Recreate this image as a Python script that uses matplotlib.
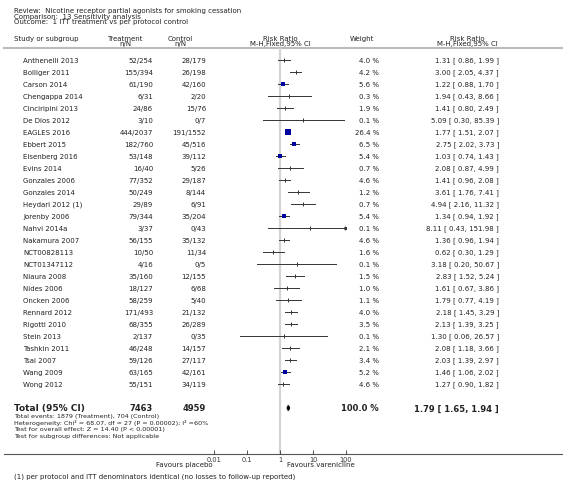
import matplotlib
matplotlib.use("Agg")
import numpy as np
import matplotlib.pyplot as plt

# Study level data
studies = ["Anthenelli 2013", "Bolliger 2011", "Carson 2014", "Chengappa 2014",
           "Cinciripini 2013", "De Dios 2012", "EAGLES 2016", "Ebbert 2015",
           "Eisenberg 2016", "Evins 2014", "Gonzales 2006", "Gonzales 2014",
           "Heydari 2012 (1)", "Jorenby 2006", "Nahvi 2014a", "Nakamura 2007",
           "NCT00828113", "NCT01347112", "Niaura 2008", "Nides 2006",
           "Oncken 2006", "Rennard 2012", "Rigotti 2010", "Stein 2013",
           "Tashkin 2011", "Tsai 2007", "Wang 2009", "Wong 2012"]
treatment = ["52/254", "155/394", "61/190", "6/31", "24/86", "3/10", "444/2037",
             "182/760", "53/148", "16/40", "77/352", "50/249", "29/89", "79/344",
             "3/37", "56/155", "10/50", "4/16", "35/160", "18/127", "58/259",
             "171/493", "68/355", "2/137", "46/248", "59/126", "63/165", "55/151"]
control = ["28/179", "26/198", "42/160", "2/20", "15/76", "0/7", "191/1552",
           "45/516", "39/112", "5/26", "29/187", "8/144", "6/91", "35/204",
           "0/43", "35/132", "11/34", "0/5", "12/155", "6/68", "5/40", "21/132",
           "26/289", "0/35", "14/157", "27/117", "42/161", "34/119"]
weight = [4.0, 4.2, 5.6, 0.3, 1.9, 0.1, 26.4, 6.5, 5.4, 0.7, 4.6, 1.2, 0.7, 5.4,
          0.1, 4.6, 1.6, 0.1, 1.5, 1.0, 1.1, 4.0, 3.5, 0.1, 2.1, 3.4, 5.2, 4.6]
rr = [1.31, 3.00, 1.22, 1.94, 1.41, 5.09, 1.77, 2.75, 1.03, 2.08, 1.41, 3.61,
      4.94, 1.34, 8.11, 1.36, 0.62, 3.18, 2.83, 1.61, 1.79, 2.18, 2.13, 1.30,
      2.08, 2.03, 1.46, 1.27]
lo = [0.86, 2.05, 0.88, 0.43, 0.80, 0.30, 1.51, 2.02, 0.74, 0.87, 0.96, 1.76,
      2.16, 0.94, 0.43, 0.96, 0.30, 0.20, 1.52, 0.67, 0.77, 1.45, 1.39, 0.06,
      1.18, 1.39, 1.06, 0.90]
hi = [1.99, 4.37, 1.70, 8.66, 2.49, 85.39, 2.07, 3.73, 1.43, 4.99, 2.08, 7.41,
      11.32, 1.92, 151.98, 1.94, 1.29, 50.67, 5.24, 3.86, 4.19, 3.29, 3.25,
      26.57, 3.66, 2.97, 2.02, 1.82]

# Pooled result
total_treat = 7463
total_ctrl = 4959
total_rr, total_lo, total_hi = 1.79, 1.65, 1.94

ticks = [0.01, 0.1, 1, 10, 100]
tick_labels = ["0.01", "0.1", "1", "10", "100"]

W, H = 566, 481
fig = plt.figure(figsize=(W / 100, H / 100), dpi=100)
fig.patch.set_facecolor("white")

# Background axes in pixel units for all the text columns
bg = fig.add_axes([0, 0, 1, 1])
bg.set_xlim(0, W)
bg.set_ylim(H, 0)
bg.axis("off")

txt = "#222222"
fs = 5.0

# Header
bg.text(14, 11, "Review:  Nicotine receptor partial agonists for smoking cessation", fontsize=fs, color=txt, va="center")
bg.text(14, 16.5, "Comparison:  13 Sensitivity analysis", fontsize=fs, color=txt, va="center")
bg.text(14, 22, "Outcome:  1 ITT treatment vs per protocol control", fontsize=fs, color=txt, va="center")

bg.text(14, 39, "Study or subgroup", fontsize=fs, color=txt, va="center")
bg.text(125, 39, "Treatment", fontsize=fs, color=txt, va="center", ha="center")
bg.text(125, 44, "n/N", fontsize=fs, color=txt, va="center", ha="center")
bg.text(180, 39, "Control", fontsize=fs, color=txt, va="center", ha="center")
bg.text(180, 44, "n/N", fontsize=fs, color=txt, va="center", ha="center")
bg.text(280, 39, "Risk Ratio", fontsize=fs, color=txt, va="center", ha="center")
bg.text(280, 44, "M-H,Fixed,95% CI", fontsize=fs, color=txt, va="center", ha="center")
bg.text(362, 39, "Weight", fontsize=fs, color=txt, va="center", ha="center")
bg.text(467, 39, "Risk Ratio", fontsize=fs, color=txt, va="center", ha="center")
bg.text(467, 44, "M-H,Fixed,95% CI", fontsize=fs, color=txt, va="center", ha="center")
bg.plot([4, 562], [49, 49], color="#bbbbbb", lw=1.5)

# Row positions in pixels
row_y = 61 + 12 * np.arange(len(studies))
total_y = 409

for i in range(len(studies)):
    y = row_y[i]
    bg.text(23, y, studies[i], fontsize=fs, color=txt, va="center")
    bg.text(153, y, treatment[i], fontsize=fs, color=txt, va="center", ha="right")
    bg.text(206, y, control[i], fontsize=fs, color=txt, va="center", ha="right")
    bg.text(379, y, f"{weight[i]:.1f} %", fontsize=fs, color=txt, va="center", ha="right")
    bg.text(499, y, f"{rr[i]:.2f} [ {lo[i]:.2f}, {hi[i]:.2f} ]", fontsize=fs, color=txt, va="center", ha="right")

# Total row
bg.text(14, total_y, "Total (95% CI)", fontsize=6.5, color=txt, va="center", fontweight="bold")
bg.text(153, total_y, str(total_treat), fontsize=6.0, color=txt, va="center", ha="right", fontweight="bold")
bg.text(206, total_y, str(total_ctrl), fontsize=6.0, color=txt, va="center", ha="right", fontweight="bold")
bg.text(379, total_y, "100.0 %", fontsize=6.0, color=txt, va="center", ha="right", fontweight="bold")
bg.text(499, total_y, f"{total_rr:.2f} [ {total_lo:.2f}, {total_hi:.2f} ]", fontsize=6.0,
        color=txt, va="center", ha="right", fontweight="bold")

# Summary statistics under the total row
bg.text(14, 417, "Total events: 1879 (Treatment), 704 (Control)", fontsize=4.6, color=txt, va="center")
bg.text(14, 423.5, "Heterogeneity: Chi² = 68.07, df = 27 (P = 0.00002); I² =60%", fontsize=4.6, color=txt, va="center")
bg.text(14, 430, "Test for overall effect: Z = 14.40 (P < 0.00001)", fontsize=4.6, color=txt, va="center")
bg.text(14, 436.5, "Test for subgroup differences: Not applicable", fontsize=4.6, color=txt, va="center")

# Bottom axis rule and favours labels
bg.plot([4, 562], [455, 455], color="#555555", lw=0.8)
bg.text(213, 465.5, "Favours placebo", fontsize=fs, color=txt, va="center", ha="right")
bg.text(287, 465.5, "Favours varenicline", fontsize=fs, color=txt, va="center", ha="left")
bg.text(14, 477, "(1) per protocol and ITT denominators identical (no losses to follow-up reported)",
        fontsize=fs, color=txt, va="center")

# Forest plot axes on a log scale
x0, x1 = 214, 346
y_top, y_bot = 49, 455
ax = fig.add_axes([x0 / W, (H - y_bot) / H, (x1 - x0) / W, (y_bot - y_top) / H])
ax.set_xscale("log")
ax.set_xlim(ticks[0], ticks[-1])
ax.set_ylim(y_bot, y_top)
ax.patch.set_alpha(0)
for s in ax.spines.values():
    s.set_visible(False)
ax.set_yticks([])
ax.set_xticks(ticks)
ax.set_xticklabels(tick_labels)
ax.minorticks_off()
ax.tick_params(axis="x", direction="in", length=3, width=0.6, labelsize=4.8,
               pad=1.5, colors="#333333")

ax.axvline(1, color="#d4d4d4", lw=1.6, zorder=0)

for i in range(len(studies)):
    y = row_y[i]
    left = max(lo[i], ticks[0])
    right = min(hi[i], ticks[-1])
    ax.plot([left, right], [y, y], color="#333333", lw=0.7, zorder=2)
    if hi[i] > ticks[-1]:
        ax.plot(right, y, marker=">", markersize=2, color="#333333", zorder=3)
    if weight[i] >= 5:
        side = 1.36 * np.sqrt(weight[i])
        ax.plot(rr[i], y, marker="s", markersize=side * 0.72, color="#0000a0",
                markeredgewidth=0, zorder=3)
    else:
        ax.plot(rr[i], y, marker="|", markersize=3, color="#333333",
                markeredgewidth=0.7, zorder=3)

# Pooled diamond
ax.fill([total_lo, total_rr, total_hi, total_rr],
        [total_y, total_y - 2.5, total_y, total_y + 2.5], color="black", zorder=3)

fig.savefig("out.png", dpi=100)
